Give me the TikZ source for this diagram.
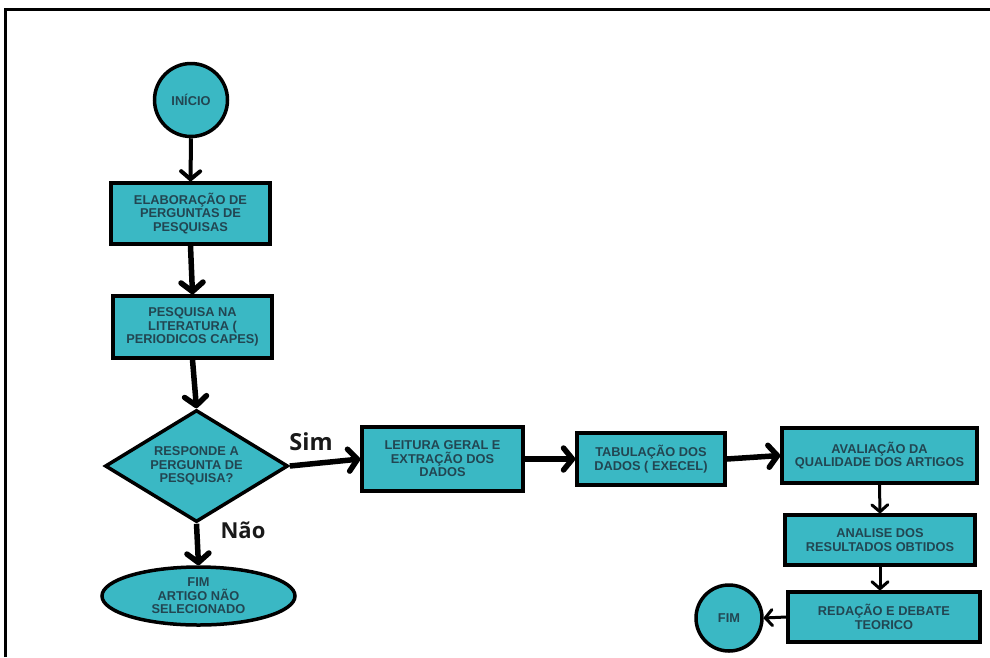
\documentclass[tikz,border=0pt]{standalone}
\usepackage{fontspec}
\setmainfont{Liberation Sans}
\newfontfamily\labelfont{Open Sans}
\usetikzlibrary{shapes.geometric,arrows.meta}
\definecolor{tealfill}{RGB}{58,184,196}
\definecolor{boxtext}{RGB}{34,70,82}
\tikzset{
  x=1pt,y=-1pt,
  stepbox/.style={draw=black,fill=tealfill,line width=3.5pt,rectangle,inner sep=0pt,
    align=center,text=boxtext,font=\bfseries\fontsize{12.8}{13.5}\selectfont},
  termcirc/.style={stepbox,circle,line width=3.5pt},
  decision/.style={stepbox,diamond},
  endoval/.style={stepbox,ellipse},
  thickarr/.style={line width=5.5pt,-{Straight Barb[length=9pt,width=22pt,line join=round,line cap=round]}},
  midarr/.style={line width=4pt,-{Straight Barb[length=8pt,width=19pt,line join=round,line cap=round]}},
  thinarr/.style={line width=3pt,-{Straight Barb[length=7pt,width=16pt,line join=round,line cap=round]}},
  yesno/.style={font=\labelfont\bfseries\fontsize{22}{24}\selectfont,text=black!90}
}
\begin{document}
\begin{tikzpicture}
\useasboundingbox (0,0) rectangle (990,657);
\draw[line width=3pt] (5,657) -- (5,9) -- (990,9);

\node[termcirc,minimum size=73] (ini) at (191,100) {INÍCIO};
\node[stepbox,minimum width=159,minimum height=61] (b1) at (190.5,213.5) {ELABORAÇÃO DE\\PERGUNTAS DE\\PESQUISAS};
\node[stepbox,minimum width=159,minimum height=62] (b2) at (192.5,327) {PESQUISA NA\\LITERATURA (\\PERIODICOS CAPES)};
\node[decision,minimum width=183,minimum height=112,aspect=1.6] (dec) at (196.5,466) {RESPONDE A\\PERGUNTA DE\\PESQUISA?};
\node[endoval,minimum width=193,minimum height=58] (nao) at (198.5,596) {FIM\\ARTIGO NÃO\\SELECIONADO};
\node[stepbox,minimum width=161,minimum height=64] (b3) at (442.5,459) {LEITURA GERAL E\\EXTRAÇÃO DOS\\DADOS};
\node[stepbox,minimum width=148,minimum height=52] (b4) at (651,459) {TABULAÇÃO DOS\\DADOS ( EXECEL)};
\node[stepbox,minimum width=195,minimum height=55] (b5) at (879.5,455.5) {AVALIAÇÃO DA\\QUALIDADE DOS ARTIGOS};
\node[stepbox,minimum width=190,minimum height=50] (b6) at (880,540) {ANALISE DOS\\RESULTADOS OBTIDOS};
\node[stepbox,minimum width=192,minimum height=50] (b7) at (884,617) {REDAÇÃO E DEBATE\\TEORICO};
\node[termcirc,minimum size=66] (fim) at (729,618) {FIM};

\node[yesno,font=\labelfont\bfseries\fontsize{23.5}{26}\selectfont] (sim) at (311,442) {Sim};
\node[yesno] (naolbl) at (243,530) {Não};

\draw[midarr] (ini.south) -- (b1.north);
\draw[thickarr] (b1.south) -- (b2.north);
\draw[thickarr] (b2.south) -- (dec.north);
\draw[thickarr] (dec.east) -- (b3.west);
\draw[thickarr] (dec.south) -- (nao.north);
\draw[thickarr] (b3.east) -- (b4.west);
\draw[thickarr] (b4.east) -- (b5.west);
\draw[thinarr] (b5.south) -- (b6.north);
\draw[thinarr] (b6.south) -- (b6.south |- b7.north);
\draw[thinarr] (b7.west) -- (fim.east);
\end{tikzpicture}
\end{document}
